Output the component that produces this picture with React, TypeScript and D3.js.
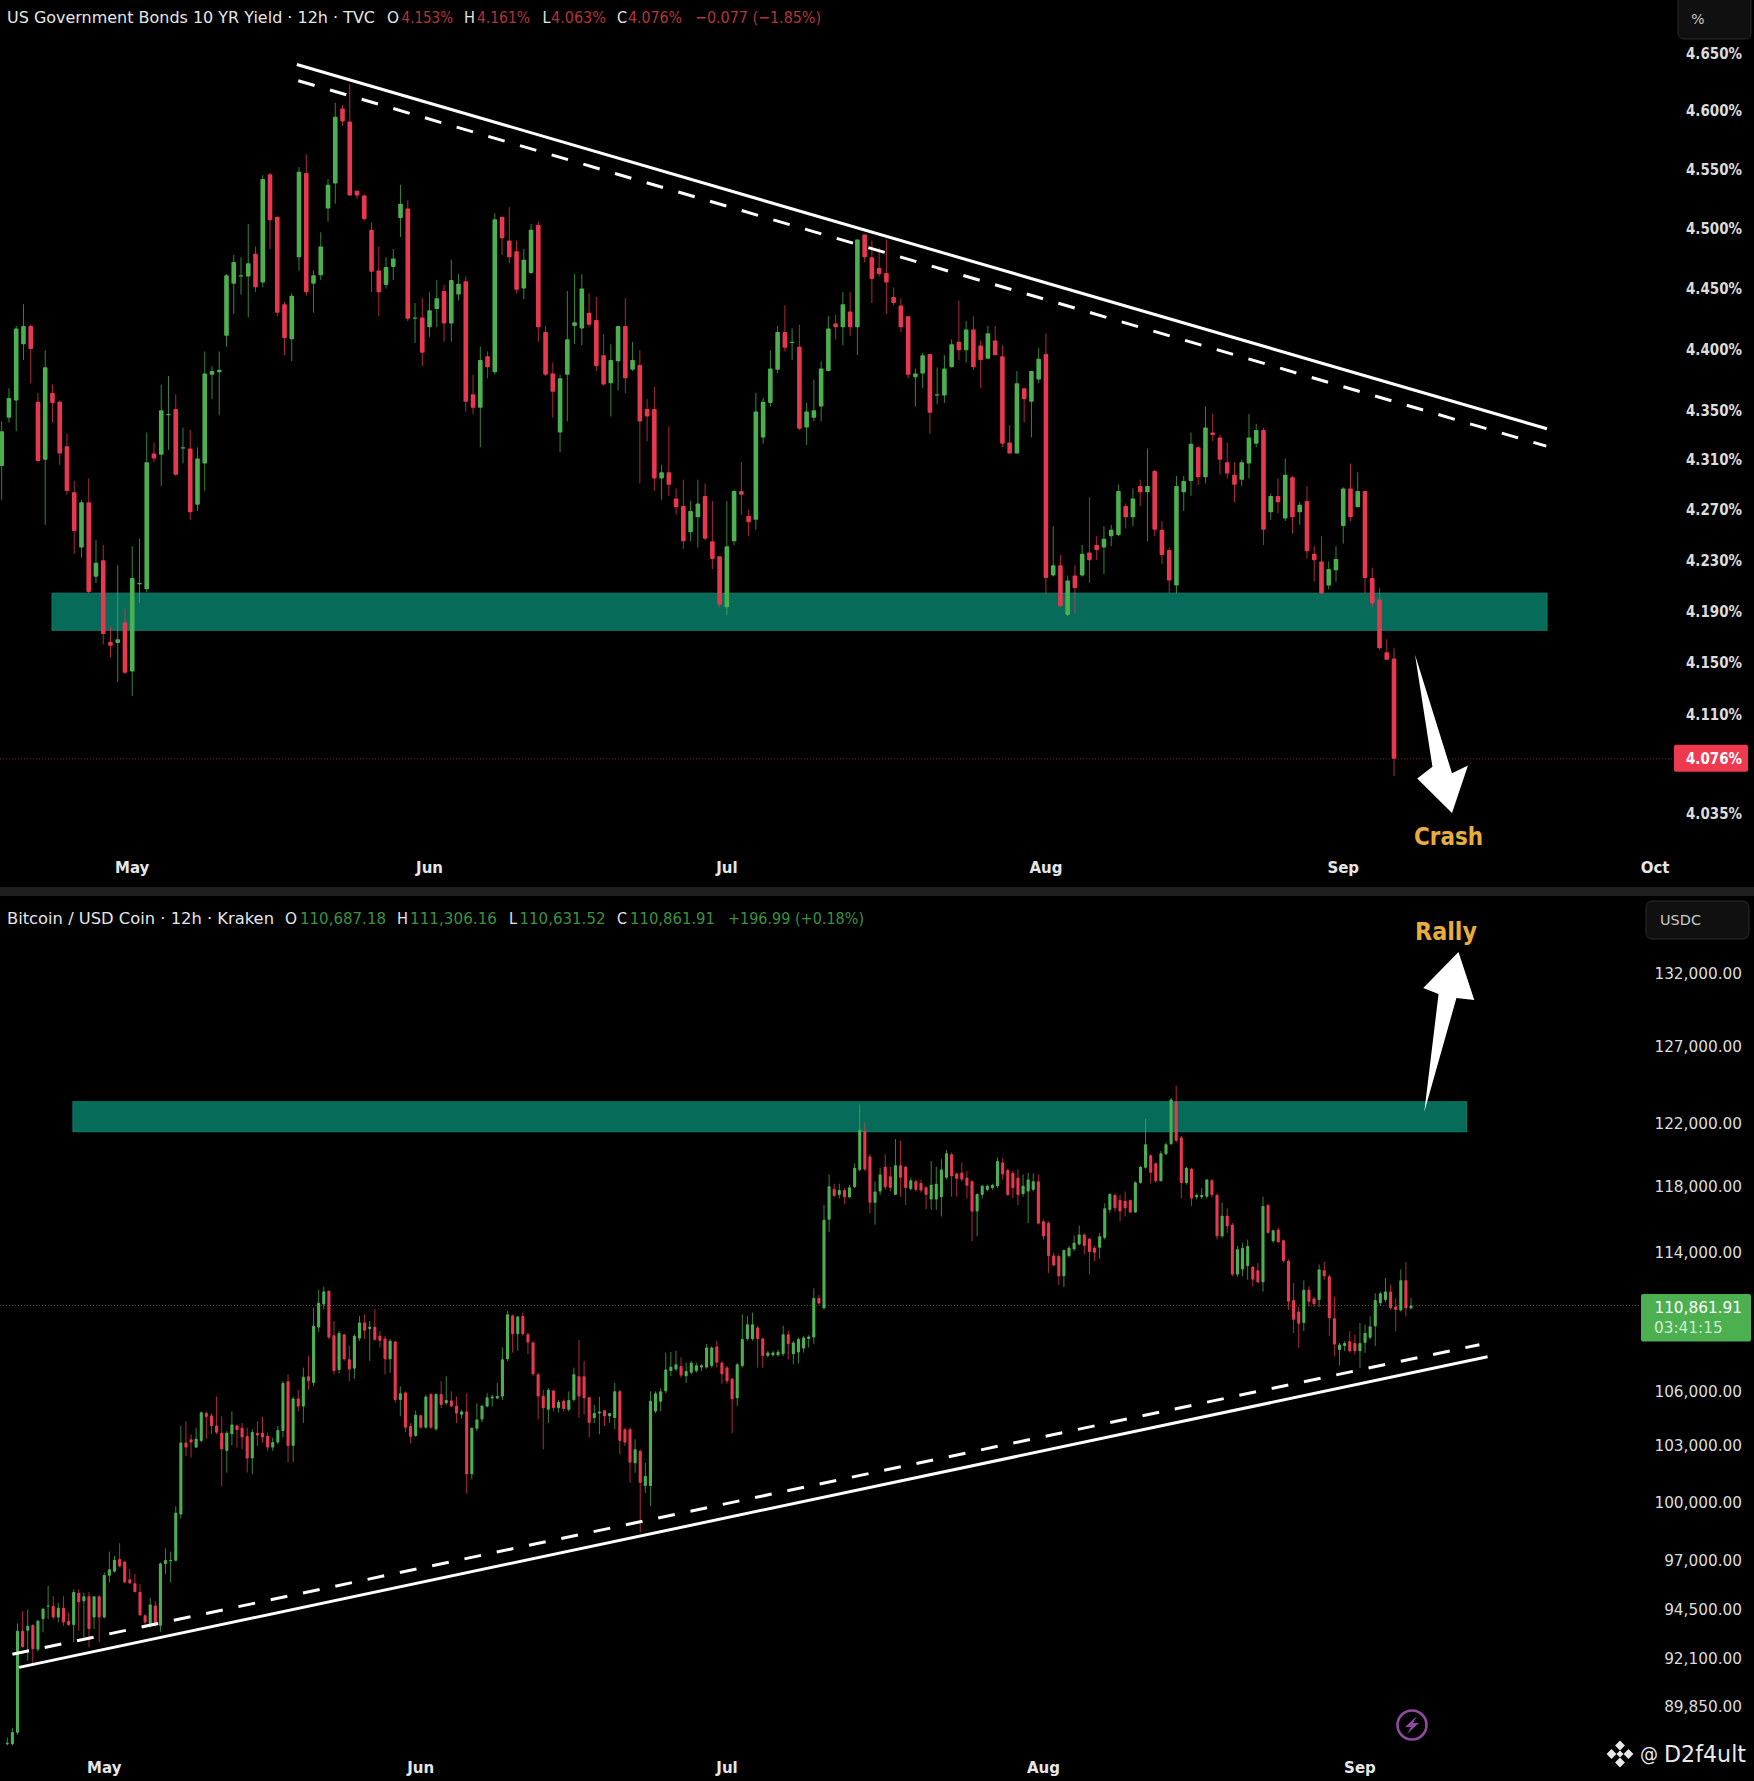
import { format, line, scaleLinear, scaleLog } from 'd3'

const WIDTH = 1754
const HEIGHT = 1781

const bondOpen = [
	4.305, 4.344, 4.358, 4.404, 4.419, 4.357, 4.31, 4.364, 4.357, 4.321,
	4.284, 4.24, 4.276, 4.217, 4.23, 4.166, 4.165, 4.181, 4.143, 4.211,
	4.207, 4.315, 4.314, 4.346, 4.351, 4.319, 4.319, 4.274, 4.307, 4.379,
	4.381, 4.411, 4.454, 4.46, 4.46, 4.479, 4.455, 4.546, 4.51, 4.437,
	4.408, 4.476, 4.547, 4.454, 4.461, 4.517, 4.538, 4.602, 4.591, 4.532,
	4.528, 4.499, 4.465, 4.453, 4.468, 4.509, 4.517, 4.425, 4.426, 4.418,
	4.433, 4.448, 4.421, 4.445, 4.456, 4.363, 4.352, 4.394, 4.381, 4.51,
	4.49, 4.481, 4.45, 4.463, 4.503, 4.414, 4.38, 4.332, 4.379, 4.419,
	4.417, 4.43, 4.424, 4.395, 4.372, 4.39, 4.419, 4.383, 4.387, 4.351,
	4.351, 4.295, 4.3, 4.279, 4.273, 4.252, 4.264, 4.281, 4.245, 4.233,
	4.193, 4.245, 4.285, 4.265, 4.262, 4.328, 4.356, 4.383, 4.414, 4.405,
	4.402, 4.336, 4.344, 4.353, 4.382, 4.421, 4.418, 4.431, 4.418, 4.495,
	4.476, 4.467, 4.463, 4.443, 4.436, 4.427, 4.377, 4.38, 4.396, 4.362,
	4.362, 4.385, 4.406, 4.399, 4.416, 4.403, 4.392, 4.407, 4.394, 4.324,
	4.315, 4.368, 4.357, 4.375, 4.396, 4.218, 4.226, 4.187, 4.218, 4.218,
	4.236, 4.242, 4.24, 4.249, 4.25, 4.273, 4.264, 4.289, 4.284, 4.301,
	4.254, 4.238, 4.21, 4.284, 4.293, 4.32, 4.296, 4.332, 4.328, 4.308,
	4.298, 4.294, 4.307, 4.323, 4.334, 4.268, 4.281, 4.263, 4.296, 4.268,
	4.277, 4.235, 4.229, 4.21, 4.222, 4.257, 4.287, 4.272, 4.285, 4.216,
	4.199, 4.158, 4.153,
]
const bondClose = [
	4.333, 4.36, 4.417, 4.419, 4.4, 4.309, 4.385, 4.356, 4.315, 4.285,
	4.253, 4.276, 4.205, 4.228, 4.172, 4.163, 4.168, 4.142, 4.216, 4.212,
	4.308, 4.311, 4.35, 4.347, 4.298, 4.32, 4.268, 4.311, 4.38, 4.382,
	4.383, 4.461, 4.472, 4.461, 4.471, 4.451, 4.542, 4.507, 4.43, 4.409,
	4.444, 4.548, 4.447, 4.461, 4.485, 4.537, 4.595, 4.591, 4.528, 4.528,
	4.508, 4.464, 4.447, 4.468, 4.475, 4.521, 4.425, 4.426, 4.397, 4.432,
	4.442, 4.421, 4.457, 4.454, 4.357, 4.352, 4.391, 4.385, 4.508, 4.492,
	4.476, 4.449, 4.474, 4.499, 4.418, 4.379, 4.365, 4.376, 4.408, 4.422,
	4.45, 4.42, 4.386, 4.371, 4.391, 4.419, 4.376, 4.391, 4.341, 4.345,
	4.295, 4.3, 4.29, 4.272, 4.245, 4.269, 4.275, 4.247, 4.231, 4.195,
	4.241, 4.285, 4.282, 4.26, 4.349, 4.357, 4.384, 4.414, 4.401, 4.406,
	4.335, 4.349, 4.35, 4.384, 4.417, 4.418, 4.437, 4.418, 4.491, 4.476,
	4.458, 4.462, 4.455, 4.438, 4.418, 4.379, 4.38, 4.395, 4.348, 4.363,
	4.384, 4.404, 4.399, 4.416, 4.385, 4.391, 4.413, 4.395, 4.323, 4.315,
	4.372, 4.359, 4.382, 4.392, 4.216, 4.226, 4.194, 4.214, 4.208, 4.235,
	4.23, 4.238, 4.247, 4.254, 4.285, 4.264, 4.279, 4.284, 4.289, 4.254,
	4.234, 4.214, 4.289, 4.293, 4.323, 4.296, 4.336, 4.33, 4.31, 4.299,
	4.29, 4.308, 4.328, 4.334, 4.254, 4.281, 4.276, 4.298, 4.264, 4.274,
	4.237, 4.23, 4.204, 4.223, 4.231, 4.287, 4.264, 4.285, 4.216, 4.196,
	4.161, 4.152, 4.076,
]
const bondHigh = [
	4.341, 4.368, 4.419, 4.437, 4.42, 4.364, 4.399, 4.371, 4.358, 4.331,
	4.293, 4.278, 4.295, 4.246, 4.242, 4.178, 4.226, 4.192, 4.241, 4.247,
	4.332, 4.324, 4.371, 4.378, 4.363, 4.336, 4.334, 4.32, 4.398, 4.386,
	4.398, 4.462, 4.478, 4.476, 4.504, 4.485, 4.545, 4.547, 4.51, 4.439,
	4.446, 4.552, 4.563, 4.465, 4.497, 4.542, 4.607, 4.605, 4.623, 4.532,
	4.529, 4.505, 4.485, 4.476, 4.483, 4.537, 4.524, 4.438, 4.442, 4.447,
	4.457, 4.453, 4.474, 4.462, 4.46, 4.379, 4.402, 4.398, 4.513, 4.51,
	4.518, 4.49, 4.483, 4.504, 4.506, 4.419, 4.389, 4.379, 4.448, 4.462,
	4.462, 4.446, 4.443, 4.412, 4.404, 4.419, 4.442, 4.406, 4.399, 4.359,
	4.369, 4.306, 4.337, 4.287, 4.294, 4.277, 4.294, 4.291, 4.277, 4.233,
	4.277, 4.286, 4.308, 4.27, 4.364, 4.36, 4.399, 4.419, 4.436, 4.417,
	4.42, 4.356, 4.375, 4.39, 4.427, 4.428, 4.447, 4.447, 4.491, 4.495,
	4.49, 4.484, 4.491, 4.451, 4.442, 4.427, 4.384, 4.397, 4.396, 4.385,
	4.395, 4.408, 4.44, 4.423, 4.427, 4.407, 4.419, 4.419, 4.403, 4.338,
	4.382, 4.368, 4.382, 4.401, 4.413, 4.257, 4.234, 4.218, 4.226, 4.242,
	4.28, 4.249, 4.257, 4.258, 4.29, 4.275, 4.287, 4.294, 4.319, 4.302,
	4.261, 4.24, 4.297, 4.297, 4.332, 4.321, 4.353, 4.347, 4.33, 4.324,
	4.308, 4.31, 4.347, 4.339, 4.336, 4.283, 4.295, 4.311, 4.297, 4.276,
	4.289, 4.241, 4.249, 4.229, 4.241, 4.288, 4.307, 4.3, 4.285, 4.224,
	4.208, 4.168, 4.161,
]
const bondLow = [
	4.278, 4.34, 4.333, 4.391, 4.372, 4.308, 4.258, 4.34, 4.306, 4.282,
	4.235, 4.232, 4.204, 4.212, 4.164, 4.154, 4.135, 4.141, 4.124, 4.196,
	4.205, 4.308, 4.289, 4.318, 4.297, 4.307, 4.262, 4.269, 4.285, 4.359,
	4.346, 4.402, 4.429, 4.445, 4.426, 4.447, 4.451, 4.483, 4.427, 4.395,
	4.39, 4.465, 4.444, 4.43, 4.457, 4.506, 4.521, 4.587, 4.528, 4.525,
	4.507, 4.447, 4.427, 4.45, 4.457, 4.493, 4.423, 4.405, 4.386, 4.41,
	4.418, 4.406, 4.406, 4.44, 4.349, 4.347, 4.32, 4.376, 4.379, 4.478,
	4.471, 4.446, 4.441, 4.462, 4.406, 4.378, 4.344, 4.316, 4.341, 4.404,
	4.403, 4.418, 4.382, 4.37, 4.345, 4.366, 4.364, 4.382, 4.291, 4.325,
	4.285, 4.278, 4.281, 4.266, 4.239, 4.245, 4.24, 4.246, 4.223, 4.193,
	4.187, 4.242, 4.266, 4.249, 4.254, 4.323, 4.353, 4.38, 4.398, 4.391,
	4.334, 4.322, 4.341, 4.341, 4.382, 4.408, 4.403, 4.411, 4.395, 4.472,
	4.438, 4.46, 4.429, 4.436, 4.414, 4.376, 4.353, 4.368, 4.331, 4.355,
	4.356, 4.385, 4.391, 4.389, 4.383, 4.368, 4.392, 4.395, 4.32, 4.315,
	4.315, 4.34, 4.328, 4.372, 4.203, 4.217, 4.193, 4.186, 4.188, 4.217,
	4.212, 4.23, 4.219, 4.241, 4.249, 4.255, 4.257, 4.273, 4.245, 4.249,
	4.227, 4.204, 4.204, 4.269, 4.281, 4.29, 4.291, 4.325, 4.298, 4.295,
	4.276, 4.289, 4.295, 4.32, 4.242, 4.262, 4.267, 4.261, 4.251, 4.258,
	4.231, 4.213, 4.203, 4.207, 4.213, 4.243, 4.261, 4.272, 4.204, 4.193,
	4.16, 4.152, 4.063,
]

const btcOpen = [
	88060, 88060, 88600, 93470, 93470, 93750, 92550, 94040, 94650, 94690,
	94120, 94600, 93960, 93750, 95350, 94930, 95180, 94120, 95180, 94120,
	96200, 96410, 97050, 96920, 96030, 95830, 95390, 94230, 93710, 94720,
	93710, 96800, 96970, 96970, 99350, 103170, 103350, 102900, 103260, 104780,
	104640, 104100, 103710, 102720, 103620, 104100, 103980, 103530, 102310, 103710,
	103710, 103530, 102900, 103170, 103800, 106550, 102990, 105590, 105140, 106830,
	106450, 109590, 110920, 111720, 109150, 107170, 109210, 107780, 107250, 108960,
	109880, 109500, 109630, 109120, 108960, 107780, 108790, 105500, 105920, 104070,
	103530, 104660, 103980, 105840, 103890, 105840, 105320, 105470, 105180, 104690,
	104870, 101470, 103920, 104430, 105140, 105590, 105590, 105690, 107780, 110290,
	109210, 110260, 109210, 108730, 106930, 105730, 104960, 106030, 105050, 105460,
	104960, 105500, 106830, 106830, 105650, 104510, 104750, 104930, 104600, 104510,
	105980, 103890, 103890, 102060, 102720, 100840, 100840, 104870, 105410, 105980,
	107120, 107210, 107400, 106830, 107020, 107120, 107310, 107310, 107400, 108510,
	107590, 107310, 106680, 105600, 107400, 108930, 108930, 109590, 108960, 107970,
	108010, 108010, 108070, 109210, 108070, 108160, 108390, 108930, 109020, 111300,
	110700, 115970, 117850, 117490, 117800, 117340, 117970, 119030, 121510, 119880,
	117010, 117700, 119240, 118650, 117490, 119330, 119240, 117850, 118330, 118230,
	117970, 117210, 117210, 117340, 118550, 120030, 118820, 118860, 118550, 118330,
	116470, 117490, 117800, 117910, 118020, 119500, 119030, 118860, 118550, 117550,
	117700, 117800, 118330, 115870, 115770, 113820, 113780, 112580, 113780, 114180,
	114470, 115070, 114810, 114280, 114280, 114870, 116570, 117490, 117170, 117130,
	117170, 116410, 118230, 119180, 119960, 119450, 118330, 120030, 120660, 123410,
	121090, 118230, 119120, 117340, 117340, 117380, 118400, 117490, 114970, 116210,
	115670, 112680, 112980, 113180, 113140, 112940, 112220, 116870, 114670, 115370,
	114730, 113480, 111180, 110510, 109850, 111780, 111280, 111180, 112940, 112580,
	110130, 108300, 108530, 108810, 108710, 108240, 108710, 109000, 109660, 110990,
	111180, 111680, 110800, 110570, 112340, 110687.18,
]
const btcClose = [
	88135, 88630, 93470, 92660, 93710, 92580, 93960, 94560, 94720, 94120,
	94600, 93880, 93750, 95390, 94880, 95180, 93550, 95180, 94120, 96240,
	96540, 97020, 96680, 95860, 95830, 95390, 94230, 93880, 94770, 93710,
	96830, 97000, 97000, 99440, 103170, 102900, 103170, 103380, 104820, 104570,
	104070, 103710, 102810, 103710, 104150, 103850, 103440, 102310, 103740, 103560,
	103440, 102900, 103200, 103850, 106450, 102990, 105590, 105140, 106790, 106550,
	109690, 111020, 111680, 109020, 107120, 109270, 107780, 107210, 109120, 109880,
	109400, 109630, 108890, 108830, 107780, 108830, 105500, 105880, 103980, 103490,
	104690, 103980, 105690, 103980, 105840, 105230, 105500, 105140, 104750, 104870,
	101470, 103980, 104430, 105180, 105650, 105690, 105720, 107780, 110350, 109210,
	110220, 109210, 108730, 106930, 105690, 105050, 106070, 105050, 105410, 105000,
	105500, 106930, 105690, 105600, 104240, 104780, 104870, 104600, 104780, 105980,
	103260, 103170, 102090, 102810, 101010, 101380, 105460, 105880, 105980, 107210,
	107360, 107500, 106870, 107120, 107590, 107440, 107440, 108450, 108450, 107590,
	106930, 106550, 105540, 107500, 108930, 109780, 109780, 108930, 107970, 108160,
	108160, 108200, 109210, 108640, 108730, 108930, 109020, 109080, 111300, 110980,
	115970, 118020, 117420, 117800, 117340, 117970, 119180, 121570, 119070, 117010,
	117700, 118760, 117970, 117910, 119330, 118550, 117910, 118400, 117800, 117760,
	117490, 118120, 118180, 119070, 120090, 118650, 118480, 118440, 118060, 116470,
	117550, 118060, 118060, 118100, 119600, 118760, 117490, 117910, 117490, 118060,
	118440, 118330, 115730, 114970, 113780, 113220, 112580, 114140, 114280, 114580,
	115070, 114380, 114020, 113980, 114970, 116670, 117550, 116670, 116470, 116670,
	116410, 118270, 119240, 120660, 118860, 118330, 120090, 120660, 123520, 120870,
	118230, 119180, 117270, 117490, 117490, 118440, 117490, 114970, 116210, 115570,
	112680, 114180, 114280, 114380, 112380, 112220, 116810, 115170, 115330, 114610,
	113480, 111080, 110040, 109810, 111780, 111080, 110950, 112980, 112580, 110130,
	108620, 108620, 108710, 108240, 108240, 108710, 109280, 109660, 111180, 111580,
	111680, 110700, 110610, 112340, 110700, 110861.91,
]
const btcHigh = [
	88370, 88830, 93830, 94440, 94520, 93790, 94000, 94600, 95690, 95180,
	94850, 95180, 94360, 95520, 95520, 95350, 95390, 95180, 95220, 96370,
	97430, 97220, 97860, 96970, 96540, 96290, 95780, 94280, 95100, 94930,
	96880, 97600, 97430, 99780, 104070, 104330, 103620, 103980, 104870, 104870,
	104780, 105690, 104600, 103800, 104870, 104150, 104240, 103980, 103890, 104330,
	104570, 103710, 103440, 104070, 106550, 106930, 105690, 106070, 107310, 107970,
	110730, 111780, 111970, 111740, 109970, 109400, 109210, 108540, 109210, 110260,
	110350, 109970, 110670, 109400, 109120, 108930, 108830, 106260, 105980, 104240,
	104920, 104690, 105780, 105880, 105880, 106550, 106830, 105980, 105690, 104960,
	105880, 103980, 105320, 105230, 105880, 105780, 106450, 108450, 110540, 110350,
	110260, 110450, 109300, 108830, 107020, 106070, 106170, 106070, 105500, 105540,
	105980, 107310, 108870, 107690, 105690, 105230, 105690, 104960, 104780, 106450,
	106070, 103980, 103980, 103350, 102810, 102090, 105980, 105980, 106170, 108160,
	108200, 108260, 107880, 107590, 107690, 107590, 107500, 108640, 108510, 108830,
	107690, 107400, 106740, 107590, 110350, 110260, 110450, 109690, 109020, 108260,
	108260, 108320, 109690, 109400, 108830, 109020, 109120, 109150, 111870, 111490,
	116870, 118760, 118180, 118180, 117910, 118120, 119450, 123200, 122040, 120030,
	118330, 119180, 120030, 119240, 120980, 120870, 119290, 118550, 118440, 118440,
	118020, 119600, 119240, 119710, 120300, 120130, 118860, 119500, 118970, 118400,
	117590, 118120, 118120, 118180, 119820, 119770, 119120, 118970, 119070, 118760,
	118860, 118820, 118760, 115970, 115870, 113980, 113880, 114180, 114380, 115010,
	115610, 115130, 114870, 114380, 115170, 116970, 117590, 117590, 117490, 117700,
	117210, 118330, 119290, 122250, 120030, 119500, 120240, 120770, 123630, 124410,
	121190, 119240, 119180, 117590, 117910, 118480, 118480, 117590, 117010, 116670,
	115770, 114380, 114580, 114770, 113180, 113380, 117380, 116930, 115370, 115470,
	114770, 113580, 112180, 110800, 112340, 111980, 111380, 113280, 113420, 112680,
	111380, 108710, 108810, 109380, 109190, 109850, 109760, 110230, 111580, 111680,
	112480, 112080, 111280, 112980, 113420, 111306.16,
]
const btcLow = [
	88010, 88010, 88520, 92660, 92010, 91770, 92450, 93390, 94040, 94040,
	93880, 93710, 93710, 92900, 93470, 93150, 92660, 93550, 92900, 94070,
	95860, 96370, 96630, 95830, 95780, 95350, 94200, 93630, 93630, 93680,
	93420, 96290, 95860, 96920, 99130, 102450, 102360, 102870, 103170, 103380,
	103620, 103620, 100840, 101560, 103030, 102900, 102810, 101560, 101470, 102990,
	103170, 102720, 102720, 103080, 103440, 102090, 102130, 104870, 104240, 106070,
	106260, 109340, 110640, 108930, 106930, 106980, 107690, 106550, 106680, 108830,
	108930, 107690, 108830, 108450, 106930, 107020, 105360, 104600, 103740, 103130,
	103490, 103940, 103920, 103920, 103800, 105050, 105230, 105110, 104240, 104460,
	100440, 101200, 103800, 104280, 105090, 105140, 105550, 105500, 107690, 108160,
	108260, 109120, 108070, 106830, 104420, 102810, 104240, 104870, 104820, 104870,
	104870, 105410, 104510, 104690, 103440, 104240, 103620, 104070, 104240, 103890,
	102540, 102990, 101010, 101550, 98420, 100480, 99780, 104780, 104870, 105880,
	106830, 107120, 106740, 106450, 106930, 107020, 107120, 107250, 107310, 107310,
	106410, 106410, 103670, 105180, 107310, 108830, 108830, 107310, 107310, 107880,
	107920, 107940, 107970, 107780, 107500, 107550, 108160, 108450, 108640, 110920,
	110610, 115210, 117380, 117270, 116930, 117270, 117910, 118970, 118970, 116370,
	115670, 117490, 117800, 117700, 117490, 117380, 116870, 117760, 117700, 117630,
	116610, 116570, 116570, 116170, 118440, 117380, 117380, 118330, 117270, 114670,
	114970, 117270, 117700, 117800, 117910, 118440, 117420, 117270, 116870, 117380,
	115770, 117700, 115670, 114770, 112780, 113180, 112080, 111940, 113680, 114080,
	114410, 113880, 112680, 113480, 113620, 114770, 116410, 116470, 115870, 116170,
	116370, 116370, 118180, 119120, 118180, 118230, 118330, 119960, 120600, 120770,
	117270, 118120, 116810, 117210, 117250, 117270, 117340, 114770, 114870, 115170,
	112580, 112540, 112580, 112380, 111980, 112180, 111680, 115130, 114570, 114570,
	113380, 110610, 109280, 108430, 109380, 110800, 110760, 110760, 112380, 109090,
	107960, 107430, 108240, 108150, 108050, 107300, 108150, 108910, 108530, 110840,
	111080, 110610, 109380, 110510, 110230, 110631.52,
]

const bondTicks = [4.65, 4.6, 4.55, 4.5, 4.45, 4.4, 4.35, 4.31, 4.27, 4.23, 4.19, 4.15, 4.11, 4.035]
const btcTicks = [132000, 127000, 122000, 118000, 114000, 106000, 103000, 100000, 97000, 94500, 92100, 89850]
const monthLabels = ['May', 'Jun', 'Jul', 'Aug', 'Sep', 'Oct']
const bondMonthBars = [18, 59, 100, 144, 185, 228]
const btcMonthBars = [19, 81, 141, 203, 265]

// bar index / price pairs for the drawings on top of the candles
const bondSolidTrend: [number, number][] = [[40.7, 4.64], [213.1, 4.335]]
const bondDashTrend: [number, number][] = [[40.9, 4.626], [213, 4.321]]
const btcSolidTrend: [number, number][] = [[2.3, 91690], [290, 107920]]
const btcDashTrend: [number, number][] = [[1, 92320], [288.4, 108610]]
const bondZone = { from: 6.94, to: 213.1, top: 4.204, bottom: 4.175 }
const btcZone = { from: 12.86, to: 285.9, top: 123376, bottom: 121450 }
const crashArrow: [number, number][] = [
	[194.9, 4.156], [200, 4.065], [202.2, 4.071], [200, 4.035], [195.2, 4.061], [197.3, 4.07],
]
const rallyArrow: [number, number][] = [
	[277.6, 122710], [283.9, 130280], [287.4, 130140], [284.3, 133460], [277.4, 130970], [280.4, 130550],
]

const RED = '#e8384f'
const GREEN = '#4caf50'
const ZONE = '#076b5a'
const AXIS_TEXT = '#dcdcdc'
const DIM_RED = '#b5333c'
const DIM_GREEN = '#3d9142'
const ORANGE = '#e9ad3e'
const FONT = '"DejaVu Sans", sans-serif'

const bondX = scaleLinear().domain([0, bondOpen.length - 1]).range([1.7, 1394])
const bondY = scaleLog().domain([4.65, 4.035]).range([53, 813])
const btcX = scaleLinear().domain([0, btcOpen.length - 1]).range([7.3, 1411])
const btcY = scaleLog().domain([132000, 89850]).range([973, 1706])

type Scale = (v: number) => number

function Candles({ open, high, low, close, x, y, bodyWidth }: {
	open: number[]
	high: number[]
	low: number[]
	close: number[]
	x: Scale
	y: Scale
	bodyWidth: number
}) {
	return (
		<g>
			{open.map((o, i) => {
				const c = close[i]
				const color = c < o ? RED : GREEN
				const top = y(Math.max(o, c))
				const h = Math.max(y(Math.min(o, c)) - top, 1.2)
				return (
					<g key={i}>
						<line x1={x(i)} x2={x(i)} y1={y(high[i])} y2={y(low[i])} stroke={color} strokeWidth={1} opacity={0.75} />
						<rect x={x(i) - bodyWidth / 2} y={top} width={bodyWidth} height={h} rx={0.8} fill={color} />
					</g>
				)
			})}
		</g>
	)
}

function Label({ x, y, w, text, fill, size = 16, weight = 400 }: {
	x: number
	y: number
	w: number
	text: string
	fill: string
	size?: number
	weight?: number
}) {
	return (
		<text x={x} y={y} textLength={w} lengthAdjust='spacingAndGlyphs' fill={fill} fontSize={size} fontWeight={weight} fontFamily={FONT}>
			{text}
		</text>
	)
}

function Trend({ pts, x, y, dashed }: { pts: [number, number][]; x: Scale; y: Scale; dashed?: boolean }) {
	const path = line<[number, number]>().x((d) => x(d[0])).y((d) => y(d[1]))(pts) ?? ''
	return <path d={path} fill='none' stroke='#fff' strokeWidth={3} strokeDasharray={dashed ? '17 16' : undefined} />
}

function Zone({ zone, x, y }: { zone: typeof bondZone; x: Scale; y: Scale }) {
	return (
		<rect
			x={x(zone.from)}
			y={y(zone.top)}
			width={x(zone.to) - x(zone.from)}
			height={y(zone.bottom) - y(zone.top)}
			fill={ZONE}
			stroke='#0b7f6b'
			strokeWidth={1}
		/>
	)
}

export default function App() {
	const arrowPoints = (pts: [number, number][], x: Scale, y: Scale) => pts.map((d) => `${x(d[0])},${y(d[1])}`).join(' ')
	const priceFormat = format(',.2f')

	return (
		<svg
			width={WIDTH}
			height={HEIGHT}
			viewBox={`0 0 ${WIDTH} ${HEIGHT}`}
			style={{ position: 'absolute', top: 0, left: 0, display: 'block', background: '#000' }}
		>
			<rect width={WIDTH} height={HEIGHT} fill='#000' />

			{/* Bond pane */}
			<Zone zone={bondZone} x={bondX} y={bondY} />
			<line x1={0} x2={1672} y1={bondY(4.076)} y2={bondY(4.076)} stroke='#7a2020' strokeWidth={1} strokeDasharray='1 2' />
			<Candles open={bondOpen} high={bondHigh} low={bondLow} close={bondClose} x={bondX} y={bondY} bodyWidth={4.6} />
			<Trend pts={bondSolidTrend} x={bondX} y={bondY} />
			<Trend pts={bondDashTrend} x={bondX} y={bondY} dashed />
			<polygon points={arrowPoints(crashArrow, bondX, bondY)} fill='#fff' />
			<Label x={1414} y={845} w={69} text='Crash' fill={ORANGE} size={24} weight={700} />

			<Label x={7} y={23} w={368} text='US Government Bonds 10 YR Yield · 12h · TVC' fill='#e6e6e6' />
			<Label x={387} y={23} w={12} text='O' fill='#e6e6e6' />
			<Label x={401.6} y={23} w={51.4} text='4.153%' fill={DIM_RED} />
			<Label x={464} y={23} w={11} text='H' fill='#e6e6e6' />
			<Label x={477} y={23} w={53} text='4.161%' fill={DIM_RED} />
			<Label x={542.5} y={23} w={8} text='L' fill='#e6e6e6' />
			<Label x={551} y={23} w={55} text='4.063%' fill={DIM_RED} />
			<Label x={617} y={23} w={10} text='C' fill='#e6e6e6' />
			<Label x={628} y={23} w={54} text='4.076%' fill={DIM_RED} />
			<Label x={695} y={23} w={126} text='−0.077 (−1.85%)' fill={DIM_RED} />

			<rect x={1678} y={-6} width={73} height={45} rx={6} fill='#101010' stroke='#2a2a2a' />
			<text x={1698} y={24} textAnchor='middle' fill='#c8c8c8' fontSize={14} fontFamily={FONT}>%</text>

			{bondTicks.map((t) => (
				<Label key={t} x={1686} y={bondY(t) + 5.5} w={56} text={`${t.toFixed(3)}%`} fill={AXIS_TEXT} size={15} weight={700} />
			))}
			<rect x={1674} y={bondY(4.076) - 14} width={74} height={27} rx={2} fill='#ee3a50' />
			<Label x={1686} y={bondY(4.076) + 5.5} w={56} text='4.076%' fill='#fff' size={15} weight={700} />

			{bondMonthBars.map((b, i) => (
				<text key={b} x={bondX(b)} y={873} textAnchor='middle' fill='#e6e6e6' fontSize={15} fontWeight={700} fontFamily={FONT}>
					{monthLabels[i]}
				</text>
			))}

			{/* Pane divider */}
			<rect x={0} y={887} width={WIDTH} height={9} fill='#1e1e1e' />

			{/* Bitcoin pane */}
			<Zone zone={btcZone} x={btcX} y={btcY} />
			<line x1={0} x2={1640} y1={btcY(110861.91)} y2={btcY(110861.91)} stroke='#4d5a4d' strokeWidth={1} strokeDasharray='1 2' />
			<Candles open={btcOpen} high={btcHigh} low={btcLow} close={btcClose} x={btcX} y={btcY} bodyWidth={3.1} />
			<Trend pts={btcSolidTrend} x={btcX} y={btcY} />
			<Trend pts={btcDashTrend} x={btcX} y={btcY} dashed />
			<polygon points={arrowPoints(rallyArrow, btcX, btcY)} fill='#fff' />
			<Label x={1415} y={940} w={62} text='Rally' fill={ORANGE} size={24} weight={700} />

			<Label x={7} y={924} w={267} text='Bitcoin / USD Coin · 12h · Kraken' fill='#e6e6e6' />
			<Label x={285} y={924} w={12} text='O' fill='#e6e6e6' />
			<Label x={300} y={924} w={86} text='110,687.18' fill={DIM_GREEN} />
			<Label x={397} y={924} w={11} text='H' fill='#e6e6e6' />
			<Label x={410} y={924} w={87} text='111,306.16' fill={DIM_GREEN} />
			<Label x={509} y={924} w={8} text='L' fill='#e6e6e6' />
			<Label x={519.5} y={924} w={86} text='110,631.52' fill={DIM_GREEN} />
			<Label x={617} y={924} w={10} text='C' fill='#e6e6e6' />
			<Label x={630} y={924} w={85} text='110,861.91' fill={DIM_GREEN} />
			<Label x={728} y={924} w={136} text='+196.99 (+0.18%)' fill={DIM_GREEN} />

			<rect x={1646} y={901} width={103} height={38} rx={6} fill='#101010' stroke='#2a2a2a' />
			<Label x={1660} y={925} w={41} text='USDC' fill='#c8c8c8' size={14} />

			{btcTicks.map((t) => (
				<text key={t} x={1742} y={btcY(t) + 5.5} textAnchor='end' fill={AXIS_TEXT} fontSize={15.3} fontFamily={FONT}>
					{priceFormat(t)}
				</text>
			))}
			<rect x={1641} y={1294} width={110} height={47.5} rx={2} fill={GREEN} />
			<text x={1742} y={1312.5} textAnchor='end' fill='#fff' fontSize={15.3} fontFamily={FONT}>110,861.91</text>
			<text x={1654} y={1333} fill='#cdeccf' fontSize={15.3} fontFamily={FONT}>03:41:15</text>

			{btcMonthBars.map((b, i) => (
				<text key={b} x={btcX(b)} y={1773} textAnchor='middle' fill='#e6e6e6' fontSize={15} fontWeight={700} fontFamily={FONT}>
					{monthLabels[i]}
				</text>
			))}

			{/* Lightning badge and watermark */}
			<circle cx={1412} cy={1725} r={14.5} fill='none' stroke='#8e4a9e' strokeWidth={2.6} />
			<path d='M1417 1716 L1405 1727 L1411 1727 L1407 1734 L1419 1723 L1413 1723 Z' fill='#8e4a9e' />
			<g fill='#e8e8e8' transform='translate(1620 1754)'>
				<rect x={-3.5} y={-12} width={7} height={7} transform='rotate(45 0 -8.5)' />
				<rect x={-3.5} y={5} width={7} height={7} transform='rotate(45 0 8.5)' />
				<rect x={-12} y={-3.5} width={7} height={7} transform='rotate(45 -8.5 0)' />
				<rect x={5} y={-3.5} width={7} height={7} transform='rotate(45 8.5 0)' />
				<rect x={-2.5} y={-2.5} width={5} height={5} transform='rotate(45)' />
			</g>
			<Label x={1640} y={1761} w={18} text='@' fill='#e8e8e8' size={19} />
			<Label x={1664} y={1762} w={82} text='D2f4ult' fill='#e8e8e8' size={23} />
		</svg>
	)
}
